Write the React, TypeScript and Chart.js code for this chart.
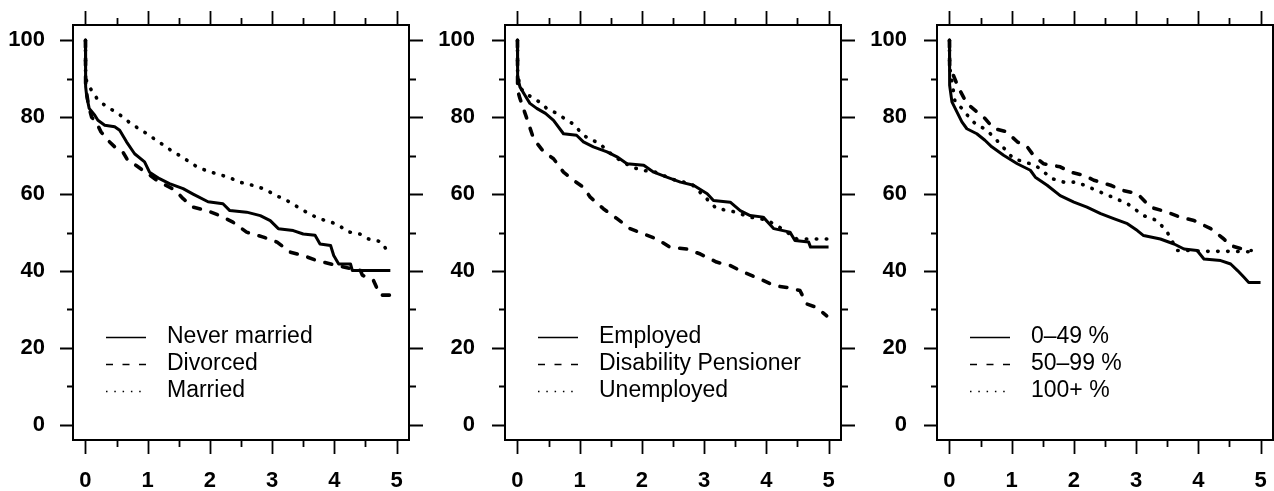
import React, { useEffect, useRef } from 'react';
import { Chart, registerables } from 'chart.js';
Chart.register(...registerables);

// ---------- data ----------
const xTickValues = [0, 1, 2, 3, 4, 5];
const yTickValues = [0, 20, 40, 60, 80, 100];

// Panel 1: marital status
const neverMarriedX = [0, 0.003, 0.02, 0.06, 0.15, 0.2, 0.31, 0.47, 0.55, 0.66, 0.79, 0.95, 1.03, 1.19, 1.35, 1.57, 1.73, 1.97, 2.21, 2.32, 2.59, 2.81, 2.97, 3.1, 3.34, 3.5, 3.69, 3.77, 3.94, 3.99, 4.07, 4.26, 4.29, 4.9];
const neverMarriedY = [100, 88, 85.5, 82.3, 80.5, 79.2, 77.9, 77.5, 76.6, 73.6, 70.5, 68.4, 65.7, 64, 62.7, 61.4, 60, 58, 57.5, 55.7, 55.3, 54.4, 53.1, 51, 50.5, 49.6, 49.3, 47, 46.6, 44, 41.8, 41.8, 40.1, 40.1];
const divorcedX = [0, 0.003, 0.05, 0.1, 0.17, 0.25, 0.36, 0.47, 0.6, 0.68, 0.81, 1.0, 1.19, 1.4, 1.5, 1.57, 1.73, 1.95, 2.16, 2.37, 2.59, 2.86, 3.08, 3.29, 3.5, 3.72, 4.04, 4.42, 4.45, 4.63, 4.69, 4.74, 5.01];
const divorcedY = [100, 88, 83, 80, 78.8, 76.2, 74, 72.3, 71, 68.8, 67.5, 65.3, 63.1, 61.4, 60, 58.8, 56.6, 55.7, 54.4, 52.7, 50.1, 48.8, 47.5, 44.9, 44, 42.7, 41.4, 40.1, 38.9, 37.5, 35.3, 33.7, 33.7];
const marriedX = [0, 0.003, 0.09, 0.18, 0.31, 0.44, 0.58, 0.71, 0.84, 0.99, 1.12, 1.26, 1.39, 1.53, 1.67, 1.8, 1.98, 2.15, 2.31, 2.48, 2.66, 2.86, 3.07, 3.29, 3.45, 3.75, 3.92, 4.08, 4.21, 4.41, 4.55, 4.75, 4.84];
const marriedY = [100, 90, 87.2, 85, 83.1, 81.8, 80.3, 78.6, 77.2, 75.7, 74.2, 72.7, 71.2, 69.9, 68.4, 67, 65.9, 65.1, 64.3, 63.1, 62.4, 61.4, 59.6, 57.9, 56.2, 53.6, 52.9, 51.8, 50.2, 49.6, 48.3, 47.6, 45.5];

// Panel 2: employment status
const employedX = [0, 0.003, 0.04, 0.12, 0.2, 0.31, 0.45, 0.58, 0.74, 0.95, 1.06, 1.22, 1.44, 1.6, 1.76, 2.03, 2.19, 2.4, 2.62, 2.83, 3.05, 3.15, 3.42, 3.58, 3.74, 3.95, 4.12, 4.38, 4.46, 4.68, 4.71, 5.0];
const employedY = [100, 90.5, 87.9, 85.7, 83.6, 82.3, 81, 79.2, 75.7, 75.3, 73.6, 72.3, 71, 69.7, 67.9, 67.5, 65.7, 64.4, 63.1, 62.3, 60.1, 58.3, 57.9, 55.7, 54.4, 54, 51, 50.1, 47.9, 47.5, 46.2, 46.2];
const pensionerX = [0, 0.003, 0.04, 0.15, 0.26, 0.42, 0.58, 0.74, 0.9, 1.06, 1.17, 1.38, 1.6, 1.81, 2.03, 2.24, 2.45, 2.72, 2.94, 3.2, 3.42, 3.63, 3.9, 4.12, 4.33, 4.54, 4.65, 4.81, 4.97];
const pensionerY = [100, 87, 84.9, 79.7, 74.4, 71, 69.2, 65.7, 63.6, 61.8, 59.2, 56.2, 53.6, 51, 49.6, 48.3, 46.2, 45.7, 44.4, 42.3, 41.4, 39.7, 37.9, 36.2, 35.7, 34.9, 31.4, 30.5, 28.3];
const unemployedX = [0, 0.003, 0.05, 0.15, 0.35, 0.47, 0.63, 0.77, 0.91, 1.02, 1.14, 1.3, 1.55, 1.83, 2.0, 2.2, 2.5, 2.8, 2.99, 3.2, 3.42, 3.74, 4.0, 4.2, 4.49, 5.0];
const unemployedY = [100, 91, 87.5, 86, 84, 82.3, 81, 79.5, 78.1, 76, 74.4, 73.4, 69.8, 67.1, 66.2, 65.8, 63.8, 62.6, 59.6, 56.2, 55.7, 54, 53.3, 51.5, 48.3, 48.3];

// Panel 3: degree
const low49X = [0, 0.003, 0.04, 0.12, 0.2, 0.28, 0.44, 0.57, 0.68, 0.87, 1.09, 1.3, 1.38, 1.57, 1.78, 2.0, 2.21, 2.43, 2.64, 2.86, 3.02, 3.12, 3.39, 3.61, 3.77, 3.98, 4.09, 4.36, 4.52, 4.63, 4.73, 4.81, 5.0];
const low49Y = [100, 88.3, 84, 81.4, 78.8, 77, 75.7, 74, 72.3, 70.1, 67.9, 66.2, 64.4, 62.3, 59.6, 57.9, 56.6, 54.9, 53.6, 52.3, 50.5, 49.2, 48.3, 47, 45.7, 45.3, 43.1, 42.7, 41.8, 40.1, 38.4, 37, 37];
const mid99X = [0, 0.003, 0.04, 0.15, 0.28, 0.44, 0.57, 0.71, 0.92, 1.09, 1.25, 1.35, 1.51, 1.78, 1.94, 2.16, 2.32, 2.59, 2.8, 3.02, 3.23, 3.5, 3.71, 3.93, 4.2, 4.41, 4.52, 4.79, 4.85];
const mid99Y = [100, 93, 91.8, 87.5, 83.6, 81.4, 79.7, 77.1, 76.2, 73.6, 72.3, 70.1, 67.9, 67.1, 65.7, 64.9, 63.6, 62.3, 60.9, 60.1, 56.6, 55.3, 54, 53.1, 51, 48.3, 46.6, 45.3, 45.3];
const high100X = [0, 0.003, 0.02, 0.09, 0.2, 0.33, 0.44, 0.57, 0.71, 1.03, 1.38, 1.52, 1.65, 1.84, 2.05, 2.24, 2.43, 2.56, 2.86, 3.12, 3.34, 3.5, 3.66, 3.88, 4.09, 4.36, 4.52, 4.73, 4.85];
const high100Y = [100, 93, 91.4, 84, 82.3, 79.7, 77.9, 77, 74.9, 69.2, 67.5, 65.7, 64, 63.1, 63.1, 61.8, 60.5, 59.6, 57.5, 54.4, 53.1, 50.1, 45.3, 45.3, 45.1, 45.1, 45.1, 45, 45];

const panel1Labels = ['Never married', 'Divorced', 'Married'];
const panel2Labels = ['Employed', 'Disability Pensioner', 'Unemployed'];
const panel3Labels = ['0–49 %', '50–99 %', '100+ %'];

// ---------- styling ----------
const FONT = '"Liberation Sans", Arial, Helvetica, sans-serif';
const H = 491;
const BOX_TOP = 25;
const BOX_BOTTOM = 440;
const X_MIN = -0.2;
const X_MAX = 5.2;
const Y_MIN = -4;
const Y_MAX = 104;

type LineKind = 'solid' | 'dashed' | 'dotted';
const STYLES: Record<LineKind, { plot: number[]; legend: number[]; cap: CanvasLineCap; width: number }> = {
  solid: { plot: [], legend: [], cap: 'butt', width: 3 },
  dashed: { plot: [7, 11], legend: [7, 9.5], cap: 'round', width: 3.6 },
  dotted: { plot: [0.5, 9.5], legend: [1.5, 6.8], cap: 'round', width: 3.6 },
};
const KINDS: LineKind[] = ['solid', 'dashed', 'dotted'];

type Series = { x: number[]; y: number[] };

function framePlugin(labels: string[]) {
  return {
    id: 'frameAndLegend',
    afterDatasetsDraw(chart: any) {
      const { ctx, chartArea } = chart;
      const xs = chart.scales.x;
      const ys = chart.scales.y;
      const { left, right, top, bottom } = chartArea;
      ctx.save();
      ctx.strokeStyle = '#000';
      ctx.lineWidth = 2;
      ctx.setLineDash([]);
      ctx.lineCap = 'butt';
      ctx.strokeRect(left, top, right - left, bottom - top);
      ctx.lineWidth = 1.8;
      ctx.beginPath();
      for (let v = 0; v <= 100; v += 10) {
        const py = Math.round(ys.getPixelForValue(v)) + 0.5;
        const len = v % 20 === 0 ? 13 : 6;
        ctx.moveTo(left - len, py);
        ctx.lineTo(left, py);
        ctx.moveTo(right, py);
        ctx.lineTo(right + len + 1, py);
      }
      for (let v = 0; v <= 5; v += 0.5) {
        const px = Math.round(xs.getPixelForValue(v)) + 0.5;
        const len = Number.isInteger(v) ? 14 : 7;
        ctx.moveTo(px, bottom);
        ctx.lineTo(px, bottom + len);
        ctx.moveTo(px, top);
        ctx.lineTo(px, top - len);
      }
      ctx.stroke();

      // legend
      ctx.font = `23px ${FONT}`;
      ctx.fillStyle = '#000';
      ctx.textBaseline = 'middle';
      ctx.textAlign = 'left';
      labels.forEach((lab, i) => {
        const y = 337 + i * 27;
        const st = STYLES[KINDS[i]];
        ctx.beginPath();
        ctx.lineWidth = 1.4;
        ctx.lineCap = 'butt';
        ctx.setLineDash(st.legend);
        ctx.moveTo(left + 33, y + 0.5);
        ctx.lineTo(left + 73, y + 0.5);
        ctx.stroke();
        ctx.setLineDash([]);
        ctx.fillText(lab, left + 94, y);
      });
      ctx.restore();
    },
  };
}

function Panel(props: { left: number; width: number; boxLeft: number; boxRight: number; yPad: number; series: Series[]; labels: string[] }) {
  const ref = useRef<HTMLCanvasElement>(null);
  useEffect(() => {
    const canvas = ref.current!;
    const { width, boxLeft, boxRight, yPad, series, labels } = props;
    const tickFont = { family: FONT, size: 22, weight: 'bold' as const };
    const chart = new Chart(canvas, {
      type: 'line',
      data: {
        datasets: series.map((s, i) => ({
          label: labels[i],
          data: s.x.map((x, j) => ({ x, y: s.y[j] })),
          borderColor: '#000',
          borderWidth: STYLES[KINDS[i]].width,
          borderDash: STYLES[KINDS[i]].plot,
          borderCapStyle: STYLES[KINDS[i]].cap,
          borderJoinStyle: 'round',
          pointRadius: 0,
          tension: 0,
          fill: false,
        })),
      },
      options: {
        animation: false,
        responsive: false,
        devicePixelRatio: 1,
        events: [],
        layout: { padding: { left: 0, top: BOX_TOP, right: width - boxRight, bottom: 0 } },
        plugins: { legend: { display: false }, tooltip: { enabled: false } },
        scales: {
          x: {
            type: 'linear',
            position: 'bottom',
            min: X_MIN,
            max: X_MAX,
            grid: { display: false, drawTicks: false },
            border: { display: false },
            ticks: { font: tickFont, color: '#000', padding: 28, autoSkip: false, maxRotation: 0 },
            afterBuildTicks: (axis: any) => {
              axis.ticks = xTickValues.map((v) => ({ value: v }));
            },
            afterFit: (axis: any) => {
              axis.height = H - BOX_BOTTOM;
              axis.paddingLeft = 0;
              axis.paddingRight = 0;
              axis.paddingTop = 0;
              axis.paddingBottom = 0;
            },
          },
          y: {
            type: 'linear',
            position: 'left',
            min: Y_MIN,
            max: Y_MAX,
            grid: { display: false, drawTicks: false },
            border: { display: false },
            ticks: { font: tickFont, color: '#000', padding: yPad, autoSkip: false },
            afterBuildTicks: (axis: any) => {
              axis.ticks = yTickValues.map((v) => ({ value: v }));
            },
            afterFit: (axis: any) => {
              axis.width = boxLeft;
              axis.paddingTop = 0;
              axis.paddingBottom = 0;
              axis.paddingLeft = 0;
              axis.paddingRight = 0;
            },
          },
        },
      } as any,
      plugins: [framePlugin(labels)],
    });
    return () => chart.destroy();
  }, []);
  return (
    <canvas
      ref={ref}
      width={props.width}
      height={H}
      style={{ position: 'absolute', left: props.left, top: 0, width: props.width, height: H }}
    />
  );
}

export default function App() {
  return (
    <div style={{ position: 'absolute', left: 0, top: 0, width: 1274, height: H, background: '#fff' }}>
      <Panel
        left={0}
        width={430}
        boxLeft={73}
        boxRight={409}
        yPad={28}
        labels={panel1Labels}
        series={[
          { x: neverMarriedX, y: neverMarriedY },
          { x: divorcedX, y: divorcedY },
          { x: marriedX, y: marriedY },
        ]}
      />
      <Panel
        left={430}
        width={430}
        boxLeft={75}
        boxRight={411}
        yPad={30}
        labels={panel2Labels}
        series={[
          { x: employedX, y: employedY },
          { x: pensionerX, y: pensionerY },
          { x: unemployedX, y: unemployedY },
        ]}
      />
      <Panel
        left={860}
        width={414}
        boxLeft={77}
        boxRight={413}
        yPad={30}
        labels={panel3Labels}
        series={[
          { x: low49X, y: low49Y },
          { x: mid99X, y: mid99Y },
          { x: high100X, y: high100Y },
        ]}
      />
    </div>
  );
}
